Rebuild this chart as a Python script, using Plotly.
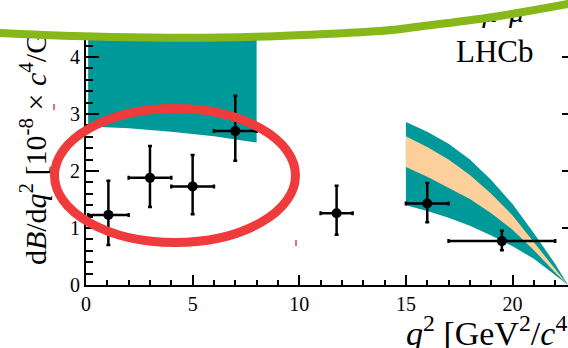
import plotly.graph_objects as go

# ---------------- data ----------------
q2 = [1.05, 3.0, 5.0, 7.0, 11.75, 16.0, 19.5]
q2_lo = [0.1, 2.0, 4.0, 6.0, 11.0, 15.0, 17.0]
q2_hi = [2.0, 4.0, 6.0, 8.0, 12.5, 17.0, 22.0]
dbf = [1.23, 1.88, 1.73, 2.70, 1.26, 1.43, 0.77]
dbf_up = [1.83, 2.44, 2.28, 3.32, 1.74, 1.79, 0.95]
dbf_dn = [0.70, 1.37, 1.24, 2.18, 0.88, 1.10, 0.61]

# low-q2 SM prediction band
low_q2 = [0.1, 2.0, 4.0, 6.0, 8.0]
low_band_lo = [2.78, 2.75, 2.69, 2.61, 2.50]
low_band_hi = [5.6, 5.5, 5.4, 5.3, 5.2]

# high-q2 SM prediction bands
high_q2 = [15.0, 16.0, 17.0, 18.0, 19.0, 20.0, 21.0, 22.0, 22.6]
outer_hi = [2.86, 2.69, 2.48, 2.20, 1.84, 1.42, 0.91, 0.37, 0.0]
inner_hi = [2.61, 2.42, 2.20, 1.93, 1.60, 1.22, 0.75, 0.27, 0.0]
inner_lo = [2.07, 1.90, 1.71, 1.51, 1.26, 0.97, 0.61, 0.22, 0.0]
outer_lo = [1.40, 1.30, 1.18, 1.04, 0.87, 0.68, 0.46, 0.17, 0.0]

x_ticks = [0, 5, 10, 15, 20]
y_ticks = [0, 1, 2, 3, 4]

Y_TITLE = ("d<i>B</i>/d<i>q</i><sup>2</sup> [10<sup>-8</sup> × "
           "<i>c</i><sup>4</sup>/GeV<sup>2</sup>]")
X_TITLE = "<i>q</i><sup>2</sup> [GeV<sup>2</sup>/<i>c</i><sup>4</sup>]"
DECAY = ("<i>B</i><sup>+</sup>→ <i>π</i><sup>+</sup><i>μ</i><sup>+</sup>"
         "<i>μ</i><sup>−</sup>")

TEAL = "#009999"
PEACH = "#fccf9b"
GREEN = "#86b81a"
RED = "#ef3b3b"
FONT = "Liberation Serif"

# ---------------- figure geometry (pixels) ----------------
W, H = 568, 348
ML, MR, MT, MB = 86, 0, 0, 63
PW, PH = W - ML - MR, H - MT - MB


def px(x):
    return (x - ML) / PW


def py(y):
    return (H - MB - y) / PH


fig = go.Figure()

# bands
fig.add_trace(go.Scatter(
    x=low_q2 + low_q2[::-1], y=low_band_hi + low_band_lo[::-1],
    fill="toself", fillcolor=TEAL, line=dict(width=0), mode="lines",
    hoverinfo="skip"))
fig.add_trace(go.Scatter(
    x=high_q2 + high_q2[::-1], y=outer_hi + outer_lo[::-1],
    fill="toself", fillcolor=TEAL, line=dict(width=0), mode="lines",
    hoverinfo="skip"))
fig.add_trace(go.Scatter(
    x=high_q2 + high_q2[::-1], y=inner_hi + inner_lo[::-1],
    fill="toself", fillcolor=PEACH, line=dict(width=0), mode="lines",
    hoverinfo="skip"))

# data points
fig.add_trace(go.Scatter(
    x=q2, y=dbf, mode="markers",
    marker=dict(color="black", size=10),
    error_x=dict(type="data", symmetric=False,
                 array=[h - c for h, c in zip(q2_hi, q2)],
                 arrayminus=[c - l for l, c in zip(q2_lo, q2)],
                 color="black", thickness=2.5, width=2),
    error_y=dict(type="data", symmetric=False,
                 array=[u - c for u, c in zip(dbf_up, dbf)],
                 arrayminus=[c - d for d, c in zip(dbf_dn, dbf)],
                 color="black", thickness=2.5, width=2),
))

# decay label (mostly hidden by the slide decoration)
fig.add_trace(go.Scatter(
    x=[21.1], y=[4.74], mode="text", text=[DECAY],
    textposition="middle left",
    textfont=dict(family=FONT, size=30, color="black"),
    hoverinfo="skip"))

# dummy traces for the extra axes
fig.add_trace(go.Scatter(x=[0], y=[0], yaxis="y2", mode="markers",
                         marker=dict(opacity=0), hoverinfo="skip"))
fig.add_trace(go.Scatter(x=[0], y=[0], yaxis="y3", mode="markers",
                         marker=dict(opacity=0), hoverinfo="skip"))

fig.update_layout(
    width=W, height=H,
    margin=dict(l=ML, r=MR, t=MT, b=MB, autoexpand=False),
    paper_bgcolor="white", plot_bgcolor="white",
    showlegend=False,
    font=dict(family=FONT, color="black"),
    xaxis=dict(
        range=[0, 22.6], tickvals=x_ticks, ticks="inside", ticklen=10,
        tickwidth=2, tickcolor="black", showline=True, linewidth=2,
        linecolor="black", showgrid=False, zeroline=False,
        tickfont=dict(family=FONT, size=20, color="black"),
        minor=dict(ticks="inside", ticklen=5, tickwidth=2, dtick=1, tick0=0,
                   tickcolor="black", showgrid=False),
    ),
    yaxis=dict(
        range=[0, 5], tickvals=y_ticks, ticks="inside", ticklen=13,
        tickwidth=2, tickcolor="black", showline=True, linewidth=2,
        linecolor="black", showgrid=False, zeroline=False,
        tickfont=dict(family=FONT, size=20, color="black"),
        minor=dict(ticks="inside", ticklen=7, tickwidth=2, dtick=0.2, tick0=0,
                   tickcolor="black", showgrid=False),
    ),
    yaxis2=dict(
        range=[0, 5], overlaying="y", side="right", tickvals=[1, 2, 3, 4],
        ticks="inside", ticklen=6, tickwidth=2, tickcolor="black",
        showticklabels=False, showline=False, showgrid=False, zeroline=False),
    # y-axis title drawn as a rotated tick label so the slide decoration
    # can cover its upper part, as in the reference
    yaxis3=dict(
        range=[0, 5], overlaying="y", side="left", anchor="x",
        tickvals=[2.80], ticktext=[Y_TITLE], tickangle=-90, ticks="",
        ticklabelstandoff=33, ticklabeloverflow="allow", automargin=False,
        tickfont=dict(family=FONT, size=30, color="black"),
        showline=False, showgrid=False, zeroline=False),
)

# ---------------- slide decorations ----------------
curve = [(-12, 32.5), (0, 33), (75, 36), (150, 37.5), (220, 37.5), (280, 36),
         (380, 31), (420, 26.5), (493, 17), (568, 4), (585, 0)]


def bezier_path(pts):
    s = "M {:.5f},{:.5f}".format(px(pts[0][0]), py(pts[0][1]))
    n = len(pts)
    for i in range(n - 1):
        p0 = pts[max(i - 1, 0)]
        p1 = pts[i]
        p2 = pts[i + 1]
        p3 = pts[min(i + 2, n - 1)]
        c1 = (p1[0] + (p2[0] - p0[0]) / 6, p1[1] + (p2[1] - p0[1]) / 6)
        c2 = (p2[0] - (p3[0] - p1[0]) / 6, p2[1] - (p3[1] - p1[1]) / 6)
        s += " C {:.5f},{:.5f} {:.5f},{:.5f} {:.5f},{:.5f}".format(
            px(c1[0]), py(c1[1]), px(c2[0]), py(c2[1]), px(p2[0]), py(p2[1]))
    return s


cpath = bezier_path(curve)
cover = cpath + " L {:.5f},{:.5f} L {:.5f},{:.5f} Z".format(
    px(600), py(-20), px(-20), py(-20))

fig.add_shape(type="path", path=cover, xref="paper", yref="paper",
              fillcolor="white", line=dict(width=0), layer="above")
fig.add_shape(type="path", path=cpath, xref="paper", yref="paper",
              line=dict(color=GREEN, width=8), layer="above")

# red ellipse
fig.add_shape(type="circle", xref="paper", yref="paper",
              x0=px(54.5), x1=px(295.5), y0=py(242.5), y1=py(108.5),
              line=dict(color=RED, width=9), layer="above")
# tiny red marks
for (xx, y0, y1) in [(54, 104, 110), (296, 240, 246)]:
    fig.add_shape(type="line", xref="paper", yref="paper",
                  x0=px(xx), x1=px(xx), y0=py(y0), y1=py(y1),
                  line=dict(color=RED, width=1.5), layer="above")

# texts
fig.add_annotation(text="LHCb", xref="paper", yref="paper",
                   x=px(536), y=py(51), xanchor="right", yanchor="middle",
                   showarrow=False,
                   font=dict(family=FONT, size=31, color="black"))
fig.add_annotation(text=X_TITLE, xref="paper", yref="paper",
                   x=px(404), y=py(331), xanchor="left", yanchor="middle",
                   showarrow=False,
                   font=dict(family=FONT, size=34, color="black"))

fig.write_html("out.html")
